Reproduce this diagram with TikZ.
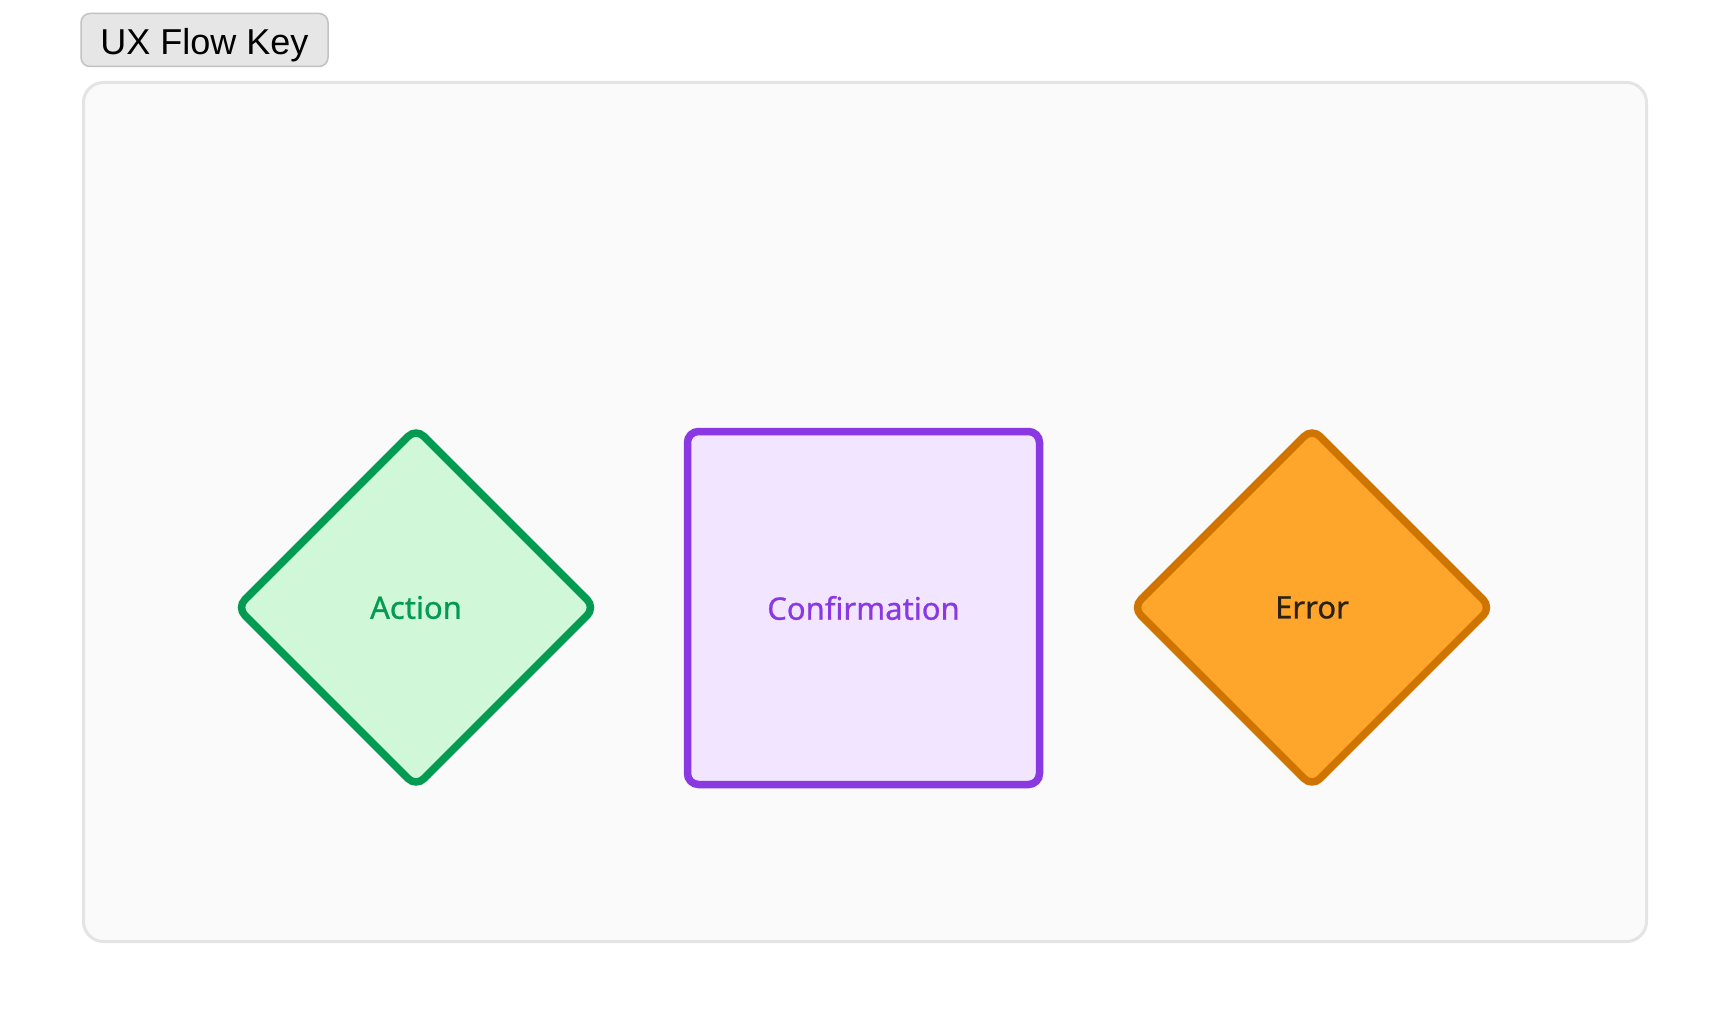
\documentclass[tikz,border=0pt]{standalone}
\usepackage{fontspec}
\setmainfont{Liberation Sans}
\newfontfamily\lblfont[FakeBold=0.8]{Noto Sans}
\usetikzlibrary{shapes.geometric}
\definecolor{panelfill}{HTML}{FAFAFA}
\definecolor{paneldraw}{HTML}{E4E4E4}
\definecolor{titlefill}{HTML}{E6E6E6}
\definecolor{titledraw}{HTML}{C2C2C2}
\definecolor{actdraw}{HTML}{039A52}
\definecolor{actfill}{HTML}{D0F7D8}
\definecolor{confdraw}{HTML}{8A38E2}
\definecolor{conffill}{HTML}{F2E5FF}
\definecolor{errdraw}{HTML}{D07400}
\definecolor{errfill}{HTML}{FEA52C}
\definecolor{errtext}{HTML}{2A2016}
\tikzset{
  keyshape/.style={line width=7.5pt, rounded corners=11pt, inner sep=0pt, outer sep=0pt,
    font=\lblfont\fontsize{31}{36}\selectfont},
  diamondbox/.style={keyshape, diamond, aspect=1, minimum width=358pt, minimum height=358pt},
  squarebox/.style={keyshape, rectangle, minimum width=352pt, minimum height=353pt},
}
\begin{document}
\begin{tikzpicture}[x=1pt,y=-1pt]
\useasboundingbox[fill=white] (0,0) rectangle (1728,1024);
% panel
\node[draw=paneldraw, fill=panelfill, line width=3pt, rounded corners=20pt,
  minimum width=1563pt, minimum height=859pt, inner sep=0pt] (panel) at (865,512) {};
% title
\node[draw=titledraw, fill=titlefill, line width=1.5pt, rounded corners=9pt,
  minimum width=247pt, minimum height=53pt, inner sep=0pt, text height=34pt, text depth=4pt,
  font=\fontsize{36}{40}\selectfont] (title) at (204.5,40) {UX Flow Key};
% key shapes
\node[diamondbox, draw=actdraw, fill=actfill, text=actdraw] (action) at (416,607.5) {Action};
\node[squarebox, draw=confdraw, fill=conffill, text=confdraw] (confirm) at (863.5,608) {Confirmation};
\node[diamondbox, draw=errdraw, fill=errfill, text=errtext] (error) at (1312,607.5) {Error};
\end{tikzpicture}
\end{document}
